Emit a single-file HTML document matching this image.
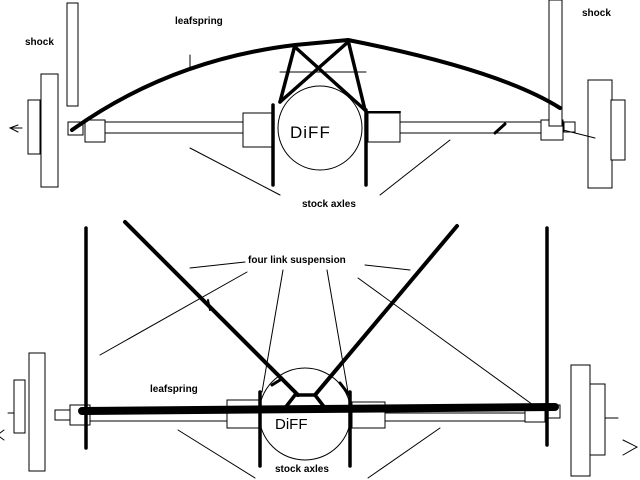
<!DOCTYPE html>
<html><head><meta charset="utf-8"><style>
html,body{margin:0;padding:0;background:#fff;}
svg{display:block;}
text{font-family:"Liberation Sans",sans-serif;font-weight:bold;font-size:10px;fill:#000;}
</style></head><body>
<svg width="640" height="480" viewBox="0 0 640 480" xmlns="http://www.w3.org/2000/svg">
<g fill="#fff" stroke="#000" stroke-width="1">
<rect x="67" y="3" width="11" height="103"/>
<rect x="41" y="74" width="17" height="113"/>
<rect x="28" y="100" width="12" height="54"/>
<rect x="68" y="122" width="15" height="13"/>
<rect x="85" y="120" width="20" height="22"/>
<rect x="105" y="122" width="138" height="11"/>
<rect x="243" y="113" width="30" height="34"/>
<circle cx="320" cy="128" r="42"/>
<rect x="368" y="113" width="32" height="29"/>
<rect x="400" y="122" width="141" height="11"/>
<rect x="541" y="120" width="22" height="20"/>
<rect x="564" y="122" width="11" height="10"/>
<rect x="549" y="0" width="13" height="126"/>
<rect x="588" y="80" width="24" height="108"/>
<rect x="611" y="100" width="14" height="60"/>
<rect x="29" y="353" width="16" height="118"/>
<rect x="14" y="380" width="11" height="53"/>
<rect x="55" y="410" width="15" height="10"/>
<rect x="70" y="405" width="20" height="20"/>
<rect x="90" y="413" width="137" height="8"/>
<rect x="227" y="400" width="33" height="28"/>
<circle cx="305" cy="414" r="46"/>
<rect x="352" y="402" width="33" height="26"/>
<rect x="385" y="413" width="140" height="8"/>
<rect x="525" y="405" width="20" height="17"/>
<rect x="548" y="405" width="12" height="13"/>
<rect x="571" y="365" width="19" height="111"/>
<rect x="590" y="384" width="15" height="71"/>
</g>
<g fill="none" stroke="#000" stroke-linecap="round">
<path d="M72 130 Q170 60 295 45 L348 40 Q500 70 560 108" stroke-width="4"/>
<line x1="295" y1="45" x2="280" y2="102" stroke-width="3.5"/>
<line x1="348" y1="40" x2="365" y2="110" stroke-width="3.5"/>
<line x1="295" y1="47" x2="365" y2="110" stroke-width="3.5"/>
<line x1="348" y1="42" x2="280" y2="102" stroke-width="3.5"/>
<line x1="280" y1="72" x2="366" y2="72" stroke-width="1"/>
<line x1="190" y1="55" x2="190" y2="70" stroke-width="1"/>
<line x1="273" y1="105" x2="273" y2="185" stroke-width="3.5"/>
<line x1="366" y1="110" x2="366" y2="185" stroke-width="3.5"/>
<line x1="366" y1="112" x2="400" y2="112" stroke-width="2"/>
<line x1="495" y1="133" x2="505" y2="124" stroke-width="3"/>
<line x1="190" y1="148" x2="280" y2="195" stroke-width="1"/>
<line x1="380" y1="195" x2="450" y2="140" stroke-width="1"/>
<path d="M18 125 L10 128 L18 132 M10 128 L22 128" stroke-width="1"/>
<line x1="563" y1="130" x2="595" y2="138" stroke-width="1"/>
<line x1="86" y1="228" x2="86" y2="448" stroke-width="3.5"/>
<line x1="547" y1="228" x2="547" y2="445" stroke-width="3.5"/>
<line x1="125" y1="222" x2="298" y2="395" stroke-width="4"/>
<line x1="457" y1="226" x2="315" y2="395" stroke-width="4"/>
<path d="M285 408 L295 395 L315 395 L325 408" stroke-width="3.5"/>
<line x1="340" y1="383" x2="350" y2="396" stroke-width="3"/>
<line x1="272" y1="385" x2="280" y2="380" stroke-width="3"/>
<line x1="82" y1="411" x2="555" y2="407" stroke-width="8"/>
<line x1="260" y1="392" x2="260" y2="466" stroke-width="3.5"/>
<line x1="350" y1="392" x2="350" y2="466" stroke-width="3.5"/>
<line x1="208" y1="300" x2="210" y2="310" stroke-width="2"/>
<g stroke-width="1">
<line x1="190" y1="268" x2="245" y2="262"/>
<line x1="365" y1="265" x2="410" y2="270"/>
<line x1="247" y1="272" x2="100" y2="355"/>
<line x1="358" y1="278" x2="540" y2="410"/>
<line x1="283" y1="270" x2="262" y2="392"/>
<line x1="327" y1="270" x2="348" y2="392"/>
<line x1="178" y1="430" x2="255" y2="478"/>
<line x1="368" y1="478" x2="440" y2="428"/>
<path d="M4 430 L0 433 M4 440 L0 437"/>
<path d="M623 440 L637 447 L623 455"/>
<line x1="8" y1="413" x2="14" y2="413"/>
<line x1="605" y1="418" x2="618" y2="418"/>
</g>
</g>
<text x="25" y="45">shock</text>
<text x="175" y="24">leafspring</text>
<text x="582" y="16">shock</text>
<text x="302" y="207">stock axles</text>
<text x="290" y="138" style="font-weight:normal;font-size:17px;letter-spacing:1px">DiFF</text>
<text x="248" y="263">four link suspension</text>
<text x="150" y="392">leafspring</text>
<text x="275" y="472">stock axles</text>
<text x="275" y="429" style="font-weight:normal;font-size:15px">DiFF</text>
</svg>
</body></html>
